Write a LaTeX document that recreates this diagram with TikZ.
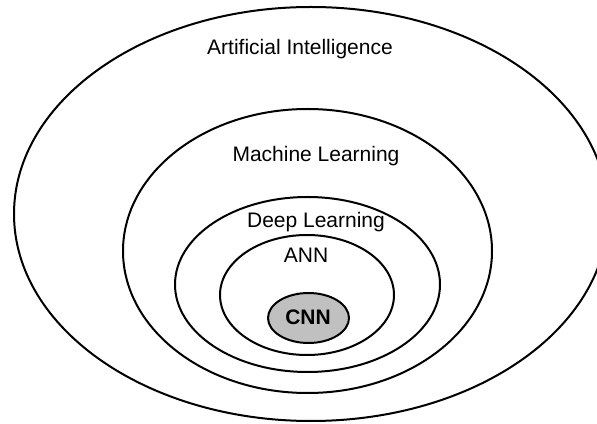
\documentclass[tikz,border=0pt]{standalone}
\usepackage{fontspec}
\setmainfont{Liberation Sans}
\usetikzlibrary{shapes.geometric}
\definecolor{cnngray}{HTML}{C0C0C0}
\begin{document}
\begin{tikzpicture}[x=1pt,y=1pt,
  ring/.style={draw=black,line width=2pt,ellipse,inner sep=0pt},
  lbl/.style={inner sep=0pt,font=\fontsize{21}{25}\selectfont}]
\useasboundingbox (0,0) rectangle (597,423);
\node[ring,minimum width=594pt,minimum height=414pt] (ai) at (311,209) {};
\node[ring,minimum width=369pt,minimum height=284pt] (ml) at (307.5,172) {};
\node[ring,minimum width=265pt,minimum height=175pt] (dl) at (307.5,138.5) {};
\node[ring,minimum width=174pt,minimum height=120pt] (ann) at (307,128) {};
\node[ring,fill=cnngray,minimum width=81pt,minimum height=50pt] (cnn) at (308.5,105) {};
\node[lbl] (tai) at (300,374) {Artificial Intelligence};
\node[lbl] (tml) at (316,267) {Machine Learning};
\node[lbl] (tdl) at (316,201) {Deep Learning};
\node[lbl] (tann) at (306,168) {ANN};
\node[lbl,font=\fontsize{21}{25}\selectfont\bfseries] (tcnn) at (308,106) {CNN};
\end{tikzpicture}
\end{document}
